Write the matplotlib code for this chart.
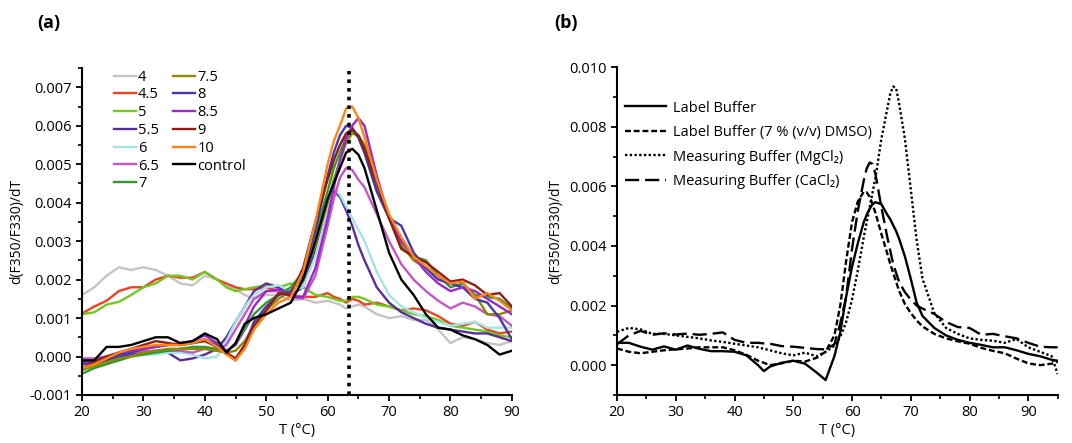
import matplotlib
matplotlib.use('Agg')
import matplotlib.pyplot as plt
from matplotlib.ticker import MultipleLocator, FormatStrFormatter
import numpy as np

plt.rcParams['font.family'] = ['Open Sans', 'DejaVu Sans']
plt.rcParams['font.size'] = 10.5

# ---- (a) pH series, derivative values in units of 1e-3 ----
T_a = [20, 22, 24, 26, 28, 30, 32, 34, 36, 38, 40, 42, 43.5, 45, 46.5, 48, 50, 52, 54, 56,
       58, 60, 61, 62, 63, 64, 65, 66, 68, 70, 72, 74, 76, 78, 80, 82, 84, 86, 88, 90]

ph4 = [1.6, 1.8, 2.1, 2.32, 2.25, 2.32, 2.25, 2.1, 1.9, 1.85, 2.1, 2.0, 1.85, 1.75, 1.6, 1.5, 1.6, 1.6, 1.45, 1.5,
       1.4, 1.45, 1.4, 1.35, 1.25, 1.3, 1.35, 1.3, 1.1, 1.0, 1.05, 0.95, 0.95, 0.7, 0.35, 0.5, 0.45, 0.35, 0.3, 0.4]
ph4_5 = [1.12, 1.3, 1.45, 1.7, 1.8, 1.8, 2.0, 2.1, 2.05, 2.05, 2.2, 2.0, 1.9, 1.8, 1.75, 1.75, 1.8, 1.7, 1.6, 1.55,
         1.55, 1.65, 1.55, 1.5, 1.4, 1.5, 1.45, 1.35, 1.4, 1.3, 1.2, 1.25, 1.2, 1.05, 0.85, 0.8, 0.9, 0.7, 0.6, 0.65]
ph5 = [1.1, 1.15, 1.35, 1.42, 1.6, 1.8, 1.9, 2.1, 2.1, 2.0, 2.2, 2.0, 1.8, 1.7, 1.75, 1.8, 1.85, 1.8, 1.9, 1.8,
       1.6, 1.55, 1.5, 1.45, 1.45, 1.55, 1.55, 1.5, 1.35, 1.3, 1.2, 1.1, 1.05, 0.95, 0.8, 0.75, 0.7, 0.65, 0.55, 0.5]
ph5_5 = [-0.3, -0.2, -0.1, 0.0, 0.05, 0.1, 0.15, 0.1, -0.1, -0.05, 0.05, 0.2, 0.5, 0.9, 1.3, 1.7, 1.9, 1.8, 1.6, 1.8,
         2.8, 3.9, 4.3, 4.15, 3.8, 3.4, 2.9, 2.5, 1.8, 1.4, 1.15, 1.0, 0.85, 0.75, 0.7, 0.65, 0.6, 0.6, 0.5, 0.4]
ph6 = [-0.35, -0.25, -0.15, -0.1, 0.0, 0.05, 0.05, 0.1, 0.1, 0.05, -0.05, 0.0, 0.4, 0.9, 1.3, 1.6, 1.8, 1.85, 1.7, 1.8,
       2.6, 3.8, 4.4, 4.2, 3.9, 3.6, 3.3, 3.0, 2.2, 1.6, 1.3, 1.15, 1.0, 0.9, 0.8, 0.85, 0.9, 0.75, 0.75, 0.75]
ph6_5 = [-0.05, -0.05, 0.0, 0.05, 0.1, 0.15, 0.15, 0.15, 0.15, 0.1, 0.2, 0.15, 0.3, 0.7, 1.1, 1.5, 1.7, 1.7, 1.55, 1.5,
         2.1, 3.4, 4.1, 4.65, 4.9, 4.85, 4.6, 4.4, 3.7, 3.0, 2.4, 2.0, 1.7, 1.45, 1.25, 1.4, 1.3, 1.1, 1.05, 0.8]
ph7 = [-0.45, -0.3, -0.2, -0.1, 0.0, 0.05, 0.1, 0.15, 0.2, 0.25, 0.25, 0.2, 0.15, 0.3, 0.7, 1.1, 1.4, 1.6, 1.8, 2.2,
       3.2, 4.3, 4.9, 5.3, 5.7, 5.85, 5.7, 5.3, 4.3, 3.6, 2.8, 2.6, 2.5, 2.1, 1.8, 1.9, 1.6, 1.55, 1.5, 1.25]
ph7_5 = [-0.35, -0.25, -0.15, -0.05, 0.0, 0.1, 0.15, 0.2, 0.2, 0.2, 0.2, 0.15, 0.1, 0.15, 0.4, 0.8, 1.2, 1.5, 1.7, 2.0,
         2.9, 4.0, 4.6, 5.1, 5.55, 5.8, 5.75, 5.5, 4.6, 3.6, 2.9, 2.5, 2.3, 2.1, 1.9, 1.8, 1.6, 1.1, 1.1, 1.2]
ph8 = [-0.2, -0.15, -0.05, 0.05, 0.1, 0.2, 0.25, 0.3, 0.3, 0.35, 0.45, 0.3, 0.1, -0.1, 0.3, 0.9, 1.3, 1.6, 1.7, 2.1,
       3.3, 4.7, 5.3, 5.75, 6.0, 5.95, 5.7, 5.3, 4.3, 3.6, 3.4, 2.7, 2.3, 2.0, 1.9, 1.8, 1.5, 1.4, 1.0, 0.45]
ph8_5 = [-0.15, -0.1, 0.0, 0.1, 0.15, 0.2, 0.25, 0.3, 0.35, 0.4, 0.55, 0.35, 0.15, 0.3, 0.8, 1.3, 1.7, 1.75, 1.55, 1.55,
         2.3, 3.6, 4.4, 5.1, 5.65, 6.0, 6.2, 6.0, 4.7, 3.6, 3.0, 2.6, 2.2, 1.9, 1.7, 1.8, 1.7, 1.5, 1.3, 1.1]
ph9 = [-0.3, -0.15, 0.0, 0.1, 0.2, 0.3, 0.4, 0.35, 0.3, 0.35, 0.4, 0.25, 0.1, -0.05, 0.3, 0.8, 1.2, 1.65, 1.6, 2.3,
       3.5, 4.6, 5.1, 5.5, 5.8, 5.9, 5.75, 5.4, 4.5, 3.6, 2.8, 2.6, 2.45, 2.2, 1.95, 2.0, 1.85, 1.6, 1.65, 1.3]
ph10 = [-0.3, -0.2, -0.05, 0.1, 0.2, 0.25, 0.3, 0.3, 0.3, 0.35, 0.45, 0.25, 0.05, -0.1, 0.2, 0.7, 1.1, 1.4, 1.55, 2.2,
        3.5, 5.0, 5.6, 6.0, 6.45, 6.5, 6.2, 5.7, 4.6, 3.7, 3.1, 2.6, 2.35, 2.1, 1.9, 1.95, 1.5, 1.65, 1.45, 1.2]
control = [-0.1, -0.1, 0.25, 0.25, 0.3, 0.4, 0.5, 0.5, 0.35, 0.4, 0.6, 0.45, 0.1, 0.35, 0.85, 1.0, 1.1, 1.25, 1.4, 2.0,
           3.0, 4.1, 4.5, 4.9, 5.3, 5.4, 5.25, 4.9, 3.8, 2.7, 2.0, 1.6, 1.1, 0.75, 0.7, 0.55, 0.45, 0.3, 0.05, 0.15]

labels_a = ['4', '4.5', '5', '5.5', '6', '6.5', '7', '7.5', '8', '8.5', '9', '10', 'control']
series_a = [ph4, ph4_5, ph5, ph5_5, ph6, ph6_5, ph7, ph7_5, ph8, ph8_5, ph9, ph10, control]
colors_a = ['#c4c4c4', '#f04020', '#70c820', '#5a2d9c', '#a4e4e4', '#c455c4', '#2e9a2e',
            '#8c8a00', '#4636b0', '#9a28c8', '#901c14', '#ff8418', 'black']
tm_line = 63.5

# ---- (b) buffers, derivative values in units of 1e-3 ----
T_b = [20, 22, 24, 26, 28, 30, 32, 34, 36, 38, 40, 42, 44, 45, 46, 48, 50, 52, 54, 55.5,
       57, 58, 59, 60, 61, 62, 62.5, 63, 63.5, 64, 65, 66, 66.5, 67, 67.5, 68, 69, 70, 71, 72,
       74, 76, 78, 80, 82, 84, 86, 88, 90, 92, 94, 95]

label_buf = [0.75, 0.75, 0.62, 0.52, 0.63, 0.52, 0.66, 0.55, 0.47, 0.47, 0.45, 0.33, 0.0, -0.2, -0.05, 0.08, 0.15, 0.05, -0.25, -0.5,
             0.3, 1.1, 2.3, 3.3, 4.1, 4.8, 5.05, 5.25, 5.4, 5.47, 5.4, 5.05, 4.9, 4.7, 4.5, 4.25, 3.65, 2.9, 2.1, 1.65,
             1.25, 1.0, 0.85, 0.75, 0.68, 0.6, 0.6, 0.5, 0.38, 0.3, 0.18, 0.15]
label_dmso = [0.56, 0.45, 0.4, 0.45, 0.5, 0.53, 0.56, 0.6, 0.6, 0.6, 0.5, 0.35, 0.15, 0.08, 0.0, 0.06, 0.15, 0.12, 0.25, 0.45,
              1.0, 2.0, 3.5, 4.8, 5.5, 5.82, 5.8, 5.65, 5.4, 5.1, 4.4, 3.75, 3.4, 3.1, 2.8, 2.5, 2.05, 1.75, 1.5, 1.3,
              1.05, 0.9, 0.8, 0.72, 0.58, 0.48, 0.4, 0.22, 0.06, 0.0, 0.05, 0.12]
meas_mg = [1.12, 1.25, 1.2, 1.05, 1.05, 1.0, 0.95, 0.9, 0.83, 0.78, 0.72, 0.66, 0.6, 0.55, 0.5, 0.4, 0.33, 0.42, 0.3, 0.45,
           0.65, 0.95, 1.45, 2.2, 3.2, 4.3, 4.8, 5.3, 5.8, 6.3, 7.6, 8.6, 9.1, 9.35, 9.3, 8.8, 7.6, 5.9, 4.2, 2.9,
           1.75, 1.25, 1.05, 0.9, 0.85, 0.82, 0.75, 0.88, 0.6, 0.45, 0.3, -0.3]
meas_ca = [0.7, 1.0, 1.15, 1.02, 1.07, 1.03, 1.06, 1.02, 1.05, 1.1, 0.85, 0.75, 0.75, 0.73, 0.72, 0.64, 0.62, 0.58, 0.54, 0.53,
           0.7, 1.4, 2.3, 3.9, 5.2, 6.2, 6.6, 6.8, 6.75, 6.4, 5.3, 4.3, 3.85, 3.4, 3.1, 2.8, 2.45, 2.2, 2.0, 1.9,
           1.72, 1.45, 1.28, 1.25, 1.02, 1.05, 0.97, 0.9, 0.75, 0.62, 0.6, 0.6]

labels_b = ['Label Buffer', 'Label Buffer (7 % (v/v) DMSO)',
            'Measuring Buffer (MgCl\u2082)', 'Measuring Buffer (CaCl\u2082)']
series_b = [label_buf, label_dmso, meas_mg, meas_ca]
styles_b = ['-', (0, (2.5, 1.2)), (0, (1, 1)), (0, (6, 2.5))]


def style_axes(ax):
    for s in ['top', 'right']:
        ax.spines[s].set_visible(False)
    for s in ['left', 'bottom']:
        ax.spines[s].set_linewidth(1.5)
    ax.tick_params(which='major', direction='out', length=4, width=1.3, labelsize=10.5)
    ax.tick_params(which='minor', direction='out', length=3, width=1.2)
    ax.yaxis.set_major_formatter(FormatStrFormatter('%.3f'))
    ax.xaxis.set_major_locator(MultipleLocator(10))
    ax.xaxis.set_minor_locator(MultipleLocator(5))
    ax.set_xlabel('T (\u00b0C)', labelpad=2)
    ax.set_ylabel('d(F350/F330)/dT', fontsize=10)


fig = plt.figure(figsize=(10.72, 4.43), dpi=100)

ax1 = fig.add_axes([0.0765, 0.1084, 0.401, 0.738])
for vals, lab, col in zip(series_a, labels_a, colors_a):
    ax1.plot(T_a, np.array(vals) * 1e-3, color=col, lw=1.7, label=lab)
ax1.axvline(tm_line, ymin=0, ymax=0.99, color='black', lw=2.6, ls=(0, (1, 1.4)))
ax1.set_xlim(20, 90)
ax1.set_ylim(-0.001, 0.0075)
ax1.yaxis.set_major_locator(MultipleLocator(0.001))
ax1.yaxis.set_minor_locator(MultipleLocator(0.0005))
style_axes(ax1)
ax1.legend(ncol=2, frameon=False, loc='upper left', bbox_to_anchor=(0.074, 0.995),
           borderaxespad=0, borderpad=0, handlelength=1.5, handletextpad=0.15,
           labelspacing=0.19, columnspacing=1.0, fontsize=10.5)

ax2 = fig.add_axes([0.5756, 0.1084, 0.411, 0.740])
for vals, lab, st in zip(series_b, labels_b, styles_b):
    ax2.plot(T_b, np.array(vals) * 1e-3, color='black', lw=1.7, ls=st, label=lab)
ax2.set_xlim(20, 95)
ax2.set_ylim(-0.001, 0.010)
ax2.yaxis.set_major_locator(MultipleLocator(0.002))
ax2.yaxis.set_minor_locator(MultipleLocator(0.001))
style_axes(ax2)
ax2.legend(frameon=False, loc='upper left', bbox_to_anchor=(0.018, 0.898),
           borderaxespad=0, borderpad=0, handlelength=2.8, handletextpad=0.5,
           labelspacing=0.65, fontsize=10.5)

fig.text(0.035, 0.948, '(a)', fontsize=13, fontweight='bold', ha='left', va='center')
fig.text(0.517, 0.948, '(b)', fontsize=13, fontweight='bold', ha='left', va='center')

fig.savefig('out.png', dpi=100)
